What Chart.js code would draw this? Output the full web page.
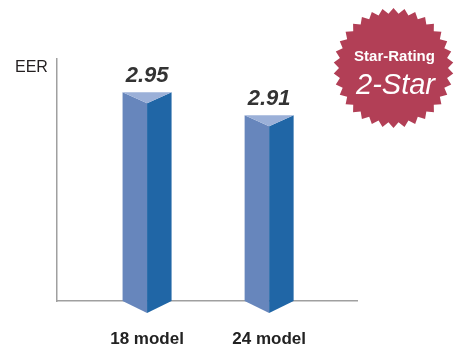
<!DOCTYPE html>
<html>
<head>
<meta charset="utf-8">
<script src="https://cdn.jsdelivr.net/npm/chart.js@4.4.1/dist/chart.umd.min.js"></script>
<style>
  body { margin: 0; background: #fff; }
  canvas { display: block; }
</style>
</head>
<body>
<canvas id="eerChart" width="455" height="348"></canvas>
<script>
// chart data
const models = ["18 model", "24 model"];
const modelPos = [1, 2];
const eerValues = [2.95, 2.91];
const axisTitle = "EER";
const badgeTitle = "Star-Rating";
const badgeValue = "2-Star";
const yMin = 2.587;
const yMax = 3.008;

// colours
const leftFace = "#6786bc";
const rightFace = "#2066a6";
const topFace = "#9bb0d8";
const badgeColor = "#b23f56";

// prism bars + value labels + EER title + star badge
const prismPlugin = {
  id: "prism",
  afterDatasetsDraw(chart) {
    const ctx = chart.ctx;
    const meta = chart.getDatasetMeta(0);
    meta.data.forEach((bar, i) => {
      const { x, y, base, width } = bar.getProps(["x", "y", "base", "width"], true);
      const half = width / 2;
      const dip = 11; // depth of the V at top and bottom
      ctx.save();
      // left face
      ctx.fillStyle = leftFace;
      ctx.beginPath();
      ctx.moveTo(x - half, y);
      ctx.lineTo(x, y + dip);
      ctx.lineTo(x, base + dip + 1);
      ctx.lineTo(x - half, base);
      ctx.closePath();
      ctx.fill();
      // right face
      ctx.fillStyle = rightFace;
      ctx.beginPath();
      ctx.moveTo(x, y + dip);
      ctx.lineTo(x + half, y);
      ctx.lineTo(x + half, base);
      ctx.lineTo(x, base + dip + 1);
      ctx.closePath();
      ctx.fill();
      // top face
      ctx.fillStyle = topFace;
      ctx.beginPath();
      ctx.moveTo(x - half, y);
      ctx.lineTo(x + half, y);
      ctx.lineTo(x, y + dip);
      ctx.closePath();
      ctx.fill();
      // value label
      ctx.fillStyle = "#333333";
      ctx.font = "italic bold 22px 'Liberation Sans', Arial, sans-serif";
      ctx.textAlign = "center";
      ctx.textBaseline = "alphabetic";
      ctx.fillText(eerValues[i].toFixed(2), x, y - 10);
      ctx.restore();
    });
  },
  afterDraw(chart) {
    const ctx = chart.ctx;
    ctx.save();
    // axis title
    ctx.fillStyle = "#231f20";
    ctx.font = "16px 'Liberation Sans', Arial, sans-serif";
    ctx.textAlign = "left";
    ctx.fillText(axisTitle, 15, 72);

    // star badge
    const cx = 393.5, cy = 68, outerR = 60, innerR = 54.5, teeth = 34;
    ctx.fillStyle = badgeColor;
    ctx.beginPath();
    for (let k = 0; k < teeth * 2; k++) {
      const ang = (Math.PI * k) / teeth - Math.PI / 2;
      const r = k % 2 === 0 ? outerR : innerR;
      const px = cx + r * Math.cos(ang);
      const py = cy + r * Math.sin(ang);
      if (k === 0) ctx.moveTo(px, py);
      else ctx.lineTo(px, py);
    }
    ctx.closePath();
    ctx.fill();
    ctx.fillStyle = "#ffffff";
    ctx.textAlign = "center";
    ctx.font = "bold 15px 'Liberation Sans', Arial, sans-serif";
    ctx.fillText(badgeTitle, cx + 1, 61);
    ctx.font = "italic 29px 'Liberation Sans', Arial, sans-serif";
    ctx.fillText(badgeValue, cx + 2, 94);
    ctx.restore();
  },
};

const ctx = document.getElementById("eerChart").getContext("2d");
new Chart(ctx, {
  type: "bar",
  data: {
    datasets: [
      {
        data: modelPos.map((p, i) => ({ x: p, y: eerValues[i] })),
        backgroundColor: "rgba(0,0,0,0)",
        barThickness: 49,
        base: yMin,
      },
    ],
  },
  options: {
    responsive: false,
    animation: false,
    layout: { padding: { left: 49, top: 59, right: 98, bottom: 0 } },
    plugins: { legend: { display: false }, tooltip: { enabled: false } },
    scales: {
      x: {
        type: "linear",
        min: 0.262,
        max: 2.72,
        offset: false,
        grid: { display: false },
        border: { color: "#a0a0a0", width: 1.5 },
        afterFit: (scale) => {
          scale.height = 47;
        },
        ticks: {
          stepSize: 1,
          padding: 20,
          maxRotation: 0,
          minRotation: 0,
          autoSkip: false,
          color: "#222222",
          font: { family: "'Liberation Sans Narrow', 'Liberation Sans', Arial", size: 17, weight: "bold" },
          callback: (value) => {
            const k = modelPos.indexOf(value);
            return k >= 0 ? models[k] : "";
          },
        },
      },
      y: {
        min: yMin,
        max: yMax,
        grid: { display: false },
        border: { color: "#a0a0a0", width: 1.5 },
        ticks: { display: false },
      },
    },
  },
  plugins: [prismPlugin],
});
</script>
</body>
</html>
